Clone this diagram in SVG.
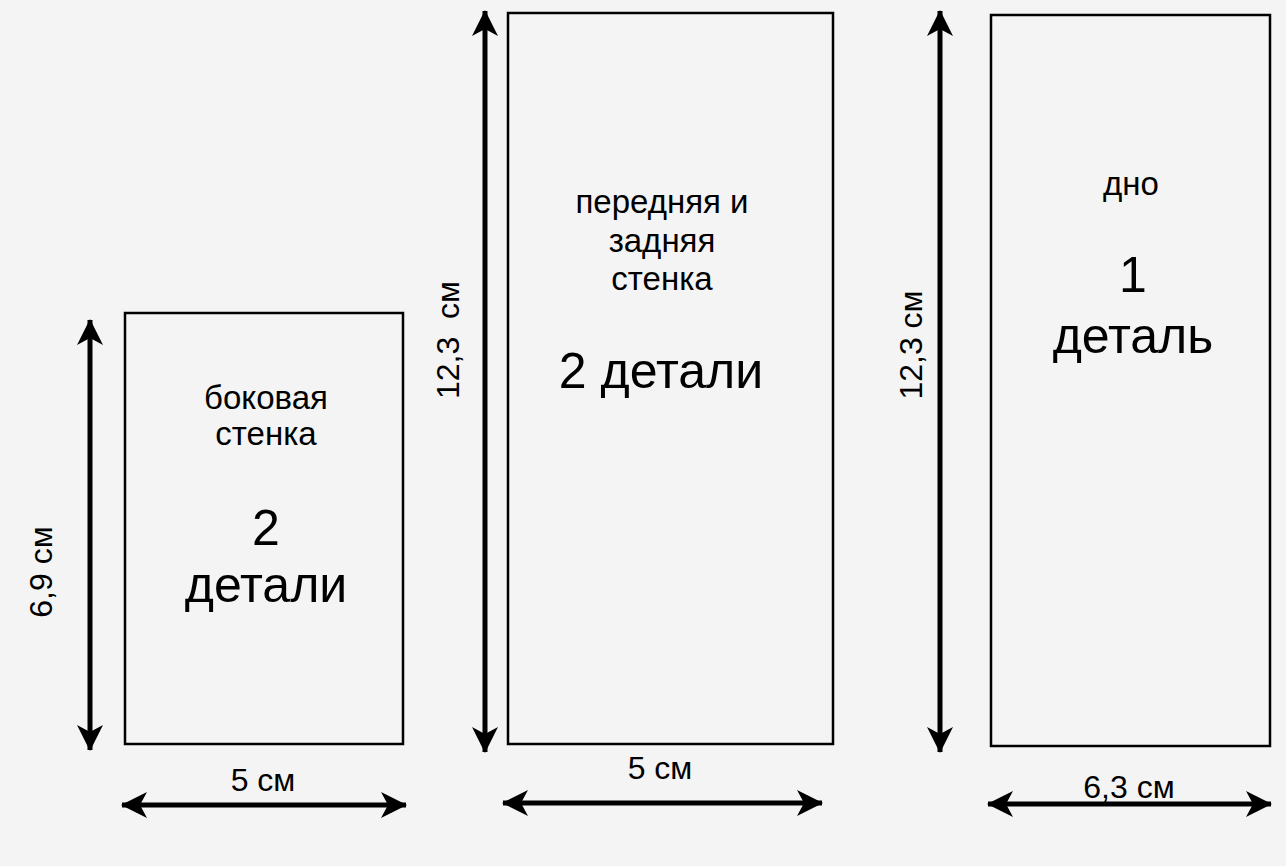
<svg xmlns="http://www.w3.org/2000/svg" width="1286" height="866" viewBox="0 0 1286 866">
<defs>
<marker id="ah" viewBox="0 0 26 26" refX="25" refY="13" markerWidth="26" markerHeight="26" markerUnits="userSpaceOnUse" orient="auto-start-reverse">
<path d="M0,0 L26,13 L0,26 L7,13 Z" fill="#000"/>
</marker>
</defs>
<style>
.piece{fill:none;stroke:#000;stroke-width:2.5}
.dim{stroke:#000;stroke-width:5;fill:none;marker-start:url(#ah);marker-end:url(#ah)}
text{font-family:"Liberation Sans",Arial,sans-serif;fill:#000;text-anchor:middle}
.s{font-size:33px}
.m{font-size:32px}
.b{font-size:50px}
</style>
<rect width="1286" height="866" fill="#f4f4f4"/>
<g id="side">
<rect class="piece" x="125" y="313" width="278" height="431"/>
<text class="s" x="266" y="409">боковая</text>
<text class="s" x="266" y="445">стенка</text>
<text class="b" x="266" y="545">2</text>
<text class="b" x="266" y="602">детали</text>
</g>
<g id="front">
<rect class="piece" x="508" y="13" width="325" height="731"/>
<text class="s" x="662" y="213">передняя и</text>
<text class="s" x="662" y="252">задняя</text>
<text class="s" x="662" y="290">стенка</text>
<text class="b" x="661" y="388">2 детали</text>
</g>
<g id="bottom">
<rect class="piece" x="991" y="15" width="279" height="731"/>
<text class="s" x="1131" y="195">дно</text>
<text class="b" x="1133" y="292">1</text>
<text class="b" x="1133" y="353">деталь</text>
</g>
<g id="connectors">
<line class="dim" x1="90" y1="320" x2="90" y2="750"/>
<line class="dim" x1="485" y1="11" x2="485" y2="752"/>
<line class="dim" x1="940" y1="11" x2="940" y2="752"/>
<line class="dim" x1="122" y1="805" x2="406" y2="805"/>
<line class="dim" x1="503" y1="803" x2="822" y2="803"/>
<line class="dim" x1="988" y1="804" x2="1271" y2="804"/>
</g>
<g id="labels">
<text class="m" transform="translate(52,572) rotate(-90)">6,9 см</text>
<text class="m" transform="translate(459,340) rotate(-90)" xml:space="preserve">12,3  см</text>
<text class="m" transform="translate(922,345) rotate(-90)">12,3 см</text>
<text class="m" x="263" y="791">5 см</text>
<text class="m" x="660" y="779">5 см</text>
<text class="m" x="1129" y="798">6,3 см</text>
</g>
</svg>
